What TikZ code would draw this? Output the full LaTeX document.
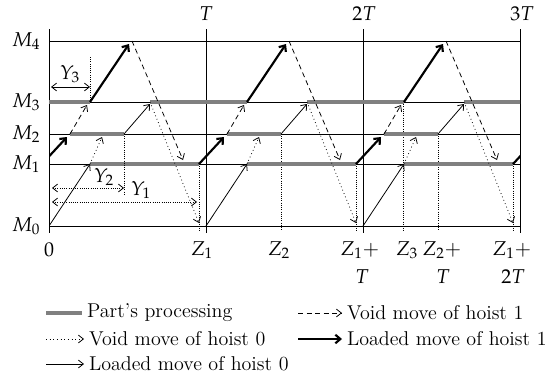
\documentclass[tikz,border=0pt]{standalone}
\usepackage{mathpazo}
\usepackage{tikz}
\usetikzlibrary{arrows.meta}
\definecolor{proc}{gray}{0.5}

\begin{document}
\begin{tikzpicture}[x=0.7pt,y=-0.7pt,
  every node/.style={font=\fontsize{14}{17}\selectfont},
  procline/.style={draw=proc,line width=2.6pt},
  load0/.style={line width=0.55pt,-{Straight Barb[length=3.5pt,width=5.5pt]}},
  void0/.style={line width=0.55pt,dotted,-{Straight Barb[length=3.5pt,width=5.5pt]}},
  load1/.style={line width=1.5pt,-{Straight Barb[length=3.5pt,width=6pt]}},
  void1/.style={line width=0.55pt,dash pattern=on 3.5pt off 2.5pt,-{Straight Barb[length=3.5pt,width=5.5pt]}},
  zline/.style={line width=0.55pt,densely dotted}]
\useasboundingbox (0,0) rectangle (553,375);
% stations and period lines
\foreach \m/\y in {0/226,1/164,2/134,3/102,4/41}{
  \draw[line width=0.6pt] (49,\y)--(520,\y);
  \node (m\m) at (26,\y) {$M_{\m}$};
}
\draw[line width=0.6pt] (49,29)--(49,233);
\foreach \x/\t/\n in {206/T/1,364/2T/2,522/3T/3}{
  \node (per\n) at (\x,14) {$\t$};
}
\foreach \x in {206,363,520}
  \draw[line width=0.6pt] (\x,29)--(\x,233);
% instants Z
\foreach \x/\y in {199/164,356/164,513/164,281/134,438/134,403/102}
  \draw[zline] (\x,\y)--(\x,231);
% cyclic schedule
\begin{scope}
\clip (49,0) rectangle (520,240);
\foreach \k in {-1,...,2}{
  \begin{scope}[shift={(157*\k,0)}]
  \draw[procline] (90,164)--(199,164);
  \draw[procline] (150,102)--(247,102);
  \draw[procline] (227,134)--(281,134);
  \end{scope}
}
\foreach \k in {-1,...,2}{
  \begin{scope}[shift={(157*\k,0)}]
  % hoist 0
  \draw[load0] (49,226)--(90,164);
  \draw[void0] (90,164)--(102,137);
  \draw[load0] (124,134)--(150,104);
  \draw[void0] (150,102)--(199,223);
  % hoist 1
  \draw[load1] (199,164)--(224,137);
  \draw[void1] (227,134)--(244,105);
  \draw[load1] (247,102)--(286,44);
  \draw[void1] (289,41)--(340,160);
  \end{scope}
}
\end{scope}
% intervals Y
\draw[zline] (90,102)--(90,57);
\draw[zline] (124,134)--(124,194);
\draw[line width=0.55pt,{Straight Barb[length=3.5pt,width=5.5pt]}-{Straight Barb[length=3.5pt,width=5.5pt]}] (51,87)--(90,87);
\draw[zline,{Straight Barb[length=3.5pt,width=5.5pt]}-{Straight Barb[length=3.5pt,width=5.5pt]}] (52,188)--(124,188);
\draw[zline,{Straight Barb[length=3.5pt,width=5.5pt]}-{Straight Barb[length=3.5pt,width=5.5pt]}] (52,202)--(197,202);
\node (y3) at (70,74) {$Y_3$};
\node (y2) at (104,177) {$Y_2$};
\node (y1) at (141,190) {$Y_1$};
% time labels
\node (t0) at (49,250) {$0$};
\node (z1) at (202,250) {$Z_1$};
\node (z2) at (279,250) {$Z_2$};
\node (z1a) at (360,250) {$Z_1{+}$};
\node (z3) at (407,250) {$Z_3$};
\node (z2a) at (442,250) {$Z_2{+}$};
\node (z1b) at (512,250) {$Z_1{+}$};
\node (t1) at (362,277) {$T$};
\node (t2) at (443,277) {$T$};
\node (t3) at (513,277) {$2T$};
% legend
\node[anchor=west] (lgproc) at (82,313) {Part's processing};
\node[anchor=west] (lgvoid0) at (84,339) {Void move of hoist 0};
\node[anchor=west] (lgload0) at (84,364) {Loaded move of hoist 0};
\node[anchor=west] (lgvoid1) at (342,313) {Void move of hoist 1};
\node[anchor=west] (lgload1) at (342,339) {Loaded move of hoist 1};
\draw[procline] (46,313)--(lgproc.west);
\draw[void0] (46,339)--(lgvoid0.west);
\draw[load0] (46,364)--(lgload0.west);
\draw[void1] (298,313)--(lgvoid1.west);
\draw[load1] (298,339)--(lgload1.west);
\end{tikzpicture}
\end{document}
